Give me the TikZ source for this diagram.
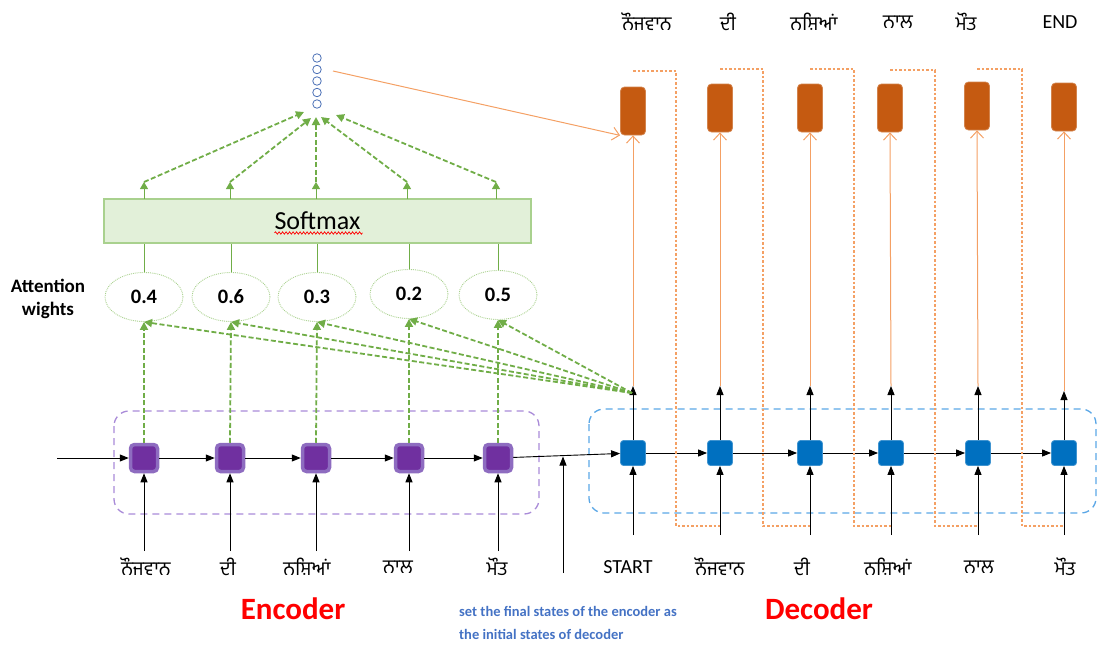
\documentclass[tikz,border=0pt]{standalone}
\usepackage{fontspec}
\setmainfont{Carlito}
\newfontfamily\gur[Script=Gurmukhi]{Hind Jalandhar}
\usetikzlibrary{arrows.meta,decorations.pathmorphing,calc,shapes.geometric}
\definecolor{encP}{HTML}{7030A0}
\definecolor{encB}{HTML}{8E6CC0}
\definecolor{decB}{HTML}{0070C0}
\definecolor{outO}{HTML}{C55A11}
\definecolor{lnO}{HTML}{F4A064}
\definecolor{grn}{HTML}{70AD47}
\definecolor{grnL}{HTML}{A9D18E}
\definecolor{smF}{HTML}{E2F0D9}
\definecolor{boxP}{HTML}{A98BD8}
\definecolor{boxB}{HTML}{5BA7E6}
\definecolor{txtB}{HTML}{4472C4}
\definecolor{vecB}{HTML}{4A6FB5}
\tikzset{
  enc/.style={draw=encB, fill=encP, line width=3.5pt, rounded corners=4pt, minimum size=27pt, inner sep=0pt},
  dec/.style={fill=decB, draw=decB!75!white, line width=0.8pt, rounded corners=3pt, minimum size=25pt, inner sep=0pt},
  outb/.style={fill=outO, draw=outO!75!white, line width=0.8pt, rounded corners=4pt, minimum width=25pt, minimum height=48pt, inner sep=0pt},
  att/.style={ellipse, draw=grnL, densely dotted, line width=0.9pt, minimum width=78pt, minimum height=49pt, inner sep=0pt, font=\bfseries\fontsize{20.5}{24}\selectfont},
  word/.style={font=\gur\fontsize{19.5}{22}\selectfont, inner sep=0pt},
  lat/.style={font=\fontsize{20}{22}\selectfont, inner sep=0pt},
  blk/.style={draw=black, line width=0.9pt, -{Triangle[length=9pt,width=7pt]}},
  gdash/.style={draw=grn, line width=1.8pt, dash pattern=on 5pt off 2.5pt, -{Triangle[length=8pt,width=8pt]}},
  gsm/.style={draw=grn, line width=1pt, -{Triangle[length=7pt,width=8pt]}},
  gln/.style={draw=grn, line width=1pt},
  oarr/.style={draw=lnO, line width=1pt, -{Straight Barb[length=7pt,width=13pt]}},
  oloop/.style={draw=lnO, line width=1.2pt, dash pattern=on 2.5pt off 2pt},
  vecc/.style={circle, draw=vecB, line width=0.8pt, minimum size=8.5pt, inner sep=0pt},
  bigred/.style={text=red, font=\bfseries\fontsize{31}{36}\selectfont, inner sep=0pt}
}
\begin{document}
\begin{tikzpicture}[x=1pt,y=-1pt]
\useasboundingbox (0,0) rectangle (1098,645);

% dashed group boxes
\draw[boxP, line width=1.3pt, dash pattern=on 7pt off 5pt, rounded corners=15pt] (114,411) rectangle (539,514);
\draw[boxB, line width=1.3pt, dash pattern=on 7pt off 5pt, rounded corners=15pt] (589,409) rectangle (1096,513);

% encoder cells
\node[enc] (e1) at (144,458) {};
\node[enc] (e2) at (230,458) {};
\node[enc] (e3) at (316,458) {};
\node[enc] (e4) at (409,458) {};
\node[enc] (e5) at (498,458) {};

% decoder cells
\node[dec] (d1) at (633,453) {};
\node[dec] (d2) at (720,453) {};
\node[dec] (d3) at (810,453) {};
\node[dec] (d4) at (891,453) {};
\node[dec] (d5) at (978,453) {};
\node[dec] (d6) at (1064,453) {};

% output boxes
\node[outb] (o1) at (633,111) {};
\node[outb] (o2) at (720,108) {};
\node[outb] (o3) at (810,108) {};
\node[outb] (o4) at (890,108) {};
\node[outb] (o5) at (977,106) {};
\node[outb] (o6) at (1064,107) {};

% top words
\node[word] (w1) at (647,22) {ਨੌਜਵਾਨ};
\node[word] (w2) at (728,22) {ਦੀ};
\node[word] (w3) at (814,22) {ਨਸ਼ਿਆਂ};
\node[word] (w4) at (898,22) {ਨਾਲ};
\node[word] (w5) at (966,22) {ਮੌਤ};
\node[lat] (w6) at (1060,22) {END};

% encoder input words
\node[word] (x1) at (146,567) {ਨੌਜਵਾਨ};
\node[word] (x2) at (228,567) {ਦੀ};
\node[word] (x3) at (307,567) {ਨਸ਼ਿਆਂ};
\node[word] (x4) at (398,567) {ਨਾਲ};
\node[word] (x5) at (497,567) {ਮੌਤ};

% decoder input words
\node[lat] (y1) at (628,567) {START};
\node[word] (y2) at (720,567) {ਨੌਜਵਾਨ};
\node[word] (y3) at (802,567) {ਦੀ};
\node[word] (y4) at (888,567) {ਨਸ਼ਿਆਂ};
\node[word] (y5) at (979,567) {ਨਾਲ};
\node[word] (y6) at (1065,567) {ਮੌਤ};

% attention weights
\node[att] (a1) at (144,297) {0.4};
\node[att] (a2) at (231,297) {0.6};
\node[att] (a3) at (317,297) {0.3};
\node[att] (a4) at (409,294) {0.2};
\node[att] (a5) at (498,295) {0.5};
\node[align=center, font=\bfseries\fontsize{19}{23}\selectfont, inner sep=0pt] (lab) at (48,299) {Attention\\wights};

% softmax
\node[draw=grnL, fill=smF, line width=1.5pt, minimum width=427pt, minimum height=44pt, inner sep=0pt, font=\fontsize{26}{28}\selectfont] (sm) at (317.5,221) {Softmax};
\draw[red, line width=0.7pt, decorate, decoration={snake, amplitude=1.2pt, segment length=3.5pt}] ($(sm.center)+(-43,12)$) -- ($(sm.center)+(45,12)$);

% context vector
\node[vecc] (c1) at (317,58) {};
\node[vecc] (c2) at (317,69.5) {};
\node[vecc] (c3) at (317,81) {};
\node[vecc] (c4) at (317,92.5) {};
\node[vecc] (c5) at (317,104) {};

% labels
\node[bigred] (encl) at (293,609) {Encoder};
\node[bigred] (decl) at (819,609) {Decoder};
\node[text=txtB, font=\bfseries\fontsize{14.5}{23}\selectfont, align=left, anchor=north west, inner sep=0pt] (note) at (459,606) {set the final states of the encoder as\\the initial states of decoder};

% coordinates
\coordinate (ein) at (57,458);
\coordinate (vin) at (563,573);
\coordinate (vtop) at (563,456.5);
\foreach \i/\x in {1/633,2/720,3/810,4/891,5/978,6/1064} {
  \coordinate (di\i) at (\x,535);
}
\foreach \i/\x in {1/144,2/230,3/316,4/409,5/498} {
  \coordinate (ei\i) at (\x,551);
}
\coordinate (t1) at (633,386);
\coordinate (t2) at (720,386);
\coordinate (t3) at (810,386);
\coordinate (t4) at (891,386);
\coordinate (t5) at (978,386);
\coordinate (t6) at (1064,391);
\coordinate (g) at (632,393);
\foreach \i/\x in {1/144,2/230,3/316,4/407,5/496} {
  \coordinate (sb\i) at (\x,199);
  \coordinate (s\i) at (\x,182);
}
\coordinate (v1) at (304,112);
\coordinate (v2) at (311,118);
\coordinate (v3) at (316,117);
\coordinate (v4) at (321,117);
\coordinate (v5) at (336,115);
\coordinate (vo) at (333,71);

% encoder chain
\draw[blk] (ein) -- (e1);
\draw[blk] (e1) -- (e2);
\draw[blk] (e2) -- (e3);
\draw[blk] (e3) -- (e4);
\draw[blk] (e4) -- (e5);
\draw[blk] (e5) -- (d1);
\draw[blk] (vin) -- (vtop);
\foreach \i in {1,...,5} {\draw[blk] (ei\i) -- (e\i.south);}

% decoder chain
\draw[blk] (d1) -- (d2);
\draw[blk] (d2) -- (d3);
\draw[blk] (d3) -- (d4);
\draw[blk] (d4) -- (d5);
\draw[blk] (d5) -- (d6);
\foreach \i in {1,...,6} {
  \draw[blk] (di\i) -- (d\i.south);
  \draw[blk] (d\i.north) -- (t\i);
}

% orange outputs
\foreach \i in {1,...,6} {\draw[oarr] (t\i) -- (o\i.south);}
\draw[oarr] (vo) -- (o1.south west);

% feedback loops
\draw[oloop] (o1.north |- 0,71) -- (676,71) -- (676,526) -- (d2 |- 0,526);
\draw[oloop] (o2.north |- 0,69) -- (763,69) -- (763,526) -- (d3 |- 0,526);
\draw[oloop] (o3.north |- 0,69) -- (854,69) -- (854,526) -- (d4 |- 0,526);
\draw[oloop] (o4.north |- 0,70) -- (935,70) -- (935,526) -- (d5 |- 0,526);
\draw[oloop] (o5.north |- 0,69) -- (1022,69) -- (1022,526) -- (d6 |- 0,526);

% attention
\foreach \i in {1,...,5} {
  \draw[gdash] (e\i.north) -- (a\i.south);
  \draw[gdash] (g) -- (a\i.south);
  \draw[gln] (a\i.north) -- (a\i.north |- sm.south);
  \draw[gsm] (sb\i) -- (s\i);
  \draw[gdash] (s\i) -- (v\i);
}
\end{tikzpicture}
\end{document}
